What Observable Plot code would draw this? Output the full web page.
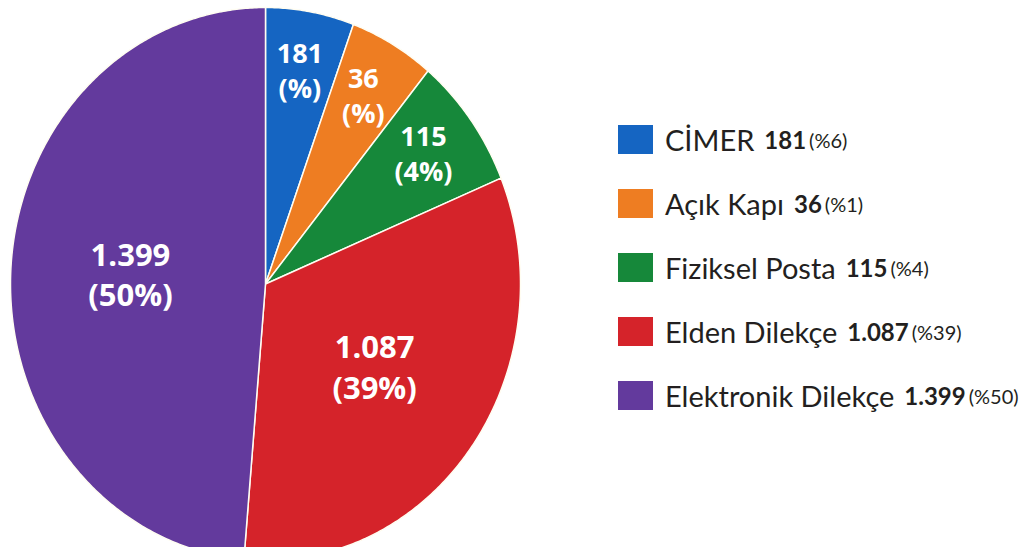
<!DOCTYPE html>
<html>
<head>
<meta charset="utf-8">
<script src="https://cdn.jsdelivr.net/npm/d3@7"></script>
<script src="https://cdn.jsdelivr.net/npm/@observablehq/plot@0.6"></script>
<style>
  html, body { margin: 0; padding: 0; background: #fff; overflow: hidden; }
  #wrap { position: relative; width: 1032px; height: 547px; overflow: hidden; }
  #legend { position: absolute; left: 618px; top: 125px; font-family: Lato, "Open Sans", sans-serif; color: #231f20; }
  .row { display: flex; align-items: center; height: 29px; margin-bottom: 35px; white-space: nowrap; }
  .sw { width: 35px; height: 29px; margin-right: 12px; flex: none; }
  .name { font-size: 29px; margin-right: 10px; }
  .val { font-size: 24px; font-weight: 700; margin-right: 3px; }
  .pct { font-size: 20px; }
</style>
</head>
<body>
<div id="wrap"><div id="chart"></div><div id="legend"></div></div>
<script>
// ---- data ----
const categories = ["CİMER", "Açık Kapı", "Fiziksel Posta", "Elden Dilekçe", "Elektronik Dilekçe"];
const values = [181, 36, 115, 1087, 1399];
const valueLabels = ["181", "36", "115", "1.087", "1.399"];
const slicePercentLabels = ["(%)", "(%)", "(4%)", "(39%)", "(50%)"];
const legendPercentLabels = ["(%6)", "(%1)", "(%4)", "(%39)", "(%50)"];
// angular share of each slice as drawn in the picture (percent of the full circle)
const drawnShare = [5.6, 5.4, 7.75, 32.6, 48.65];
const colors = ["#1565c2", "#ee7d22", "#16883a", "#d5232a", "#633a9d"];

// ---- build slice outlines from the shares ----
const total = d3.sum(drawnShare);
const polyRows = [];
const labelRows = [];
let acc = 0;
categories.forEach((cat, i) => {
  const a0 = acc / total * 360;
  acc += drawnShare[i];
  const a1 = acc / total * 360;
  polyRows.push({cat, x: 0, y: 0});
  const steps = Math.max(2, Math.ceil((a1 - a0) / 0.5));
  for (let k = 0; k <= steps; k++) {
    const a = (a0 + (a1 - a0) * k / steps) * Math.PI / 180;
    polyRows.push({cat, x: Math.sin(a), y: Math.cos(a)});
  }
  polyRows.push({cat, x: 0, y: 0});
  const mid = (a0 + a1) / 2 * Math.PI / 180;
  const small = drawnShare[i] / total < 0.1;
  const r = small ? 0.77 : 0.53;
  labelRows.push({
    cat,
    x: r * Math.sin(mid),
    y: r * Math.cos(mid),
    text: valueLabels[i] + "\n" + slicePercentLabels[i],
    size: small ? 27 : 31
  });
});

const chart = Plot.plot({
  width: 1032,
  height: 547,
  style: {background: "#fff", overflow: "hidden"},
  x: {domain: [-1, 1], range: [10, 520], axis: null},
  y: {domain: [-1, 1], range: [560, 7], axis: null},
  color: {domain: categories, range: colors},
  marks: [
    Plot.line(polyRows, {x: "x", y: "y", z: "cat", fill: "cat", stroke: "#fffdf2", strokeWidth: 1.5, strokeLinejoin: "round", curve: "linear"}),
    Plot.text(labelRows, {x: "x", y: "y", dy: -5, text: "text", fill: "white", fontSize: "size", fontWeight: 700, fontFamily: "Open Sans", lineHeight: 1.3})
  ]
});
document.getElementById("chart").appendChild(chart);

// ---- legend ----
const legend = document.getElementById("legend");
categories.forEach((cat, i) => {
  const row = document.createElement("div");
  row.className = "row";
  row.innerHTML = `<div class="sw" style="background:${colors[i]}"></div>` +
    `<span class="name">${cat}</span><span class="val">${valueLabels[i]}</span><span class="pct">${legendPercentLabels[i]}</span>`;
  legend.appendChild(row);
});
</script>
</body>
</html>
